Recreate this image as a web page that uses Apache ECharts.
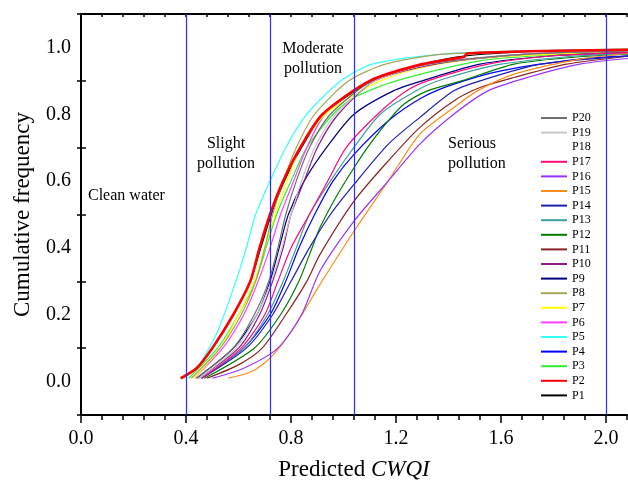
<!DOCTYPE html>
<html>
<head>
<meta charset="utf-8">
<script src="https://cdn.jsdelivr.net/npm/echarts@6/dist/echarts.min.js"></script>
<style>
html, body { margin: 0; padding: 0; background: #fff; }
#chart { width: 628px; height: 481px; }
</style>
</head>
<body>
<div id="chart"></div>
<script>
// cumulative frequency of predicted CWQI per site: [CWQI, frequency]
const P1 = [[0.38,0.01],[0.44,0.04],[0.50,0.10],[0.58,0.20],[0.645,0.30],[0.685,0.40],[0.725,0.50],[0.775,0.60],[0.84,0.70],[0.925,0.80],[1.11,0.90],[1.30,0.95],[1.47,0.975],[1.8,0.99],[2.1,0.993]]
const P2 = [[0.38,0.01],[0.44,0.04],[0.50,0.10],[0.58,0.20],[0.645,0.30],[0.68,0.40],[0.72,0.50],[0.77,0.60],[0.835,0.70],[0.92,0.80],[1.10,0.90],[1.30,0.95],[1.46,0.972],[1.47,0.982],[1.8,0.99],[2.1,0.993]]
const P3 = [[0.41,0.01],[0.52,0.10],[0.60,0.20],[0.665,0.30],[0.705,0.40],[0.745,0.50],[0.80,0.60],[0.86,0.70],[0.96,0.80],[1.04,0.85],[1.20,0.90],[1.52,0.96],[1.8,0.978],[2.1,0.988]]
const P4 = [[0.46,0.01],[0.62,0.10],[0.72,0.20],[0.78,0.30],[0.83,0.40],[0.89,0.50],[0.96,0.60],[1.04,0.68],[1.17,0.78],[1.30,0.85],[1.42,0.89],[1.60,0.93],[1.9,0.965],[2.1,0.975]]
const P5 = [[0.39,0.01],[0.45,0.05],[0.52,0.15],[0.59,0.30],[0.63,0.40],[0.665,0.50],[0.72,0.60],[0.78,0.70],[0.86,0.80],[0.99,0.90],[1.11,0.95],[1.38,0.98],[1.7,0.99],[2.1,0.995]]
const P6 = [[0.43,0.01],[0.54,0.10],[0.62,0.20],[0.675,0.30],[0.72,0.40],[0.76,0.50],[0.81,0.60],[0.86,0.70],[0.93,0.80],[1.10,0.90],[1.32,0.95],[1.7,0.98],[2.1,0.99]]
const P7 = [[0.43,0.01],[0.53,0.10],[0.60,0.20],[0.66,0.30],[0.70,0.40],[0.74,0.50],[0.785,0.60],[0.835,0.70],[0.93,0.80],[1.04,0.857],[1.14,0.90],[1.30,0.94],[1.52,0.967],[1.8,0.98],[2.1,0.99]]
const P8 = [[0.42,0.01],[0.53,0.10],[0.61,0.20],[0.665,0.30],[0.70,0.40],[0.73,0.50],[0.77,0.60],[0.82,0.70],[0.89,0.80],[1.02,0.90],[1.16,0.95],[1.38,0.98],[1.8,0.99],[2.1,0.995]]
const P9 = [[0.44,0.01],[0.58,0.10],[0.67,0.20],[0.72,0.30],[0.755,0.40],[0.79,0.50],[0.85,0.60],[0.935,0.70],[1.04,0.80],[1.19,0.87],[1.30,0.90],[1.52,0.95],[1.8,0.975],[2.1,0.985]]
const P10 = [[0.45,0.01],[0.60,0.10],[0.68,0.20],[0.73,0.30],[0.77,0.40],[0.80,0.50],[0.85,0.60],[0.90,0.70],[0.98,0.80],[1.12,0.90],[1.35,0.95],[1.7,0.98],[2.1,0.99]]
const P11 = [[0.48,0.01],[0.60,0.05],[0.69,0.10],[0.78,0.20],[0.86,0.30],[0.91,0.38],[1.04,0.54],[1.17,0.66],[1.29,0.76],[1.42,0.84],[1.52,0.88],[1.65,0.91],[1.85,0.95],[2.1,0.975]]
const P12 = [[0.47,0.01],[0.66,0.10],[0.76,0.20],[0.83,0.30],[0.88,0.40],[0.91,0.46],[0.97,0.55],[1.04,0.64],[1.10,0.71],[1.17,0.78],[1.23,0.83],[1.32,0.87],[1.45,0.90],[1.65,0.95],[1.9,0.972],[2.1,0.98]]
const P13 = [[0.46,0.01],[0.62,0.10],[0.71,0.20],[0.77,0.30],[0.82,0.40],[0.87,0.50],[0.95,0.60],[1.03,0.69],[1.14,0.80],[1.30,0.88],[1.40,0.91],[1.60,0.95],[1.9,0.975],[2.1,0.982]]
const P14 = [[0.46,0.01],[0.63,0.10],[0.73,0.20],[0.80,0.30],[0.87,0.40],[0.95,0.50],[1.04,0.59],[1.17,0.71],[1.29,0.79],[1.42,0.87],[1.52,0.90],[1.75,0.95],[2.1,0.975]]
const P15 = [[0.56,0.01],[0.65,0.03],[0.72,0.07],[0.81,0.16],[0.91,0.29],[1.04,0.45],[1.17,0.60],[1.29,0.74],[1.42,0.82],[1.51,0.87],[1.65,0.92],[1.90,0.965],[2.1,0.983]]
const P16 = [[0.50,0.01],[0.62,0.04],[0.75,0.10],[0.84,0.20],[0.91,0.33],[1.04,0.48],[1.17,0.60],[1.29,0.71],[1.42,0.80],[1.55,0.87],[1.70,0.91],[1.90,0.95],[2.1,0.968]]
const P17 = [[0.46,0.01],[0.61,0.10],[0.70,0.20],[0.75,0.30],[0.80,0.40],[0.87,0.50],[0.94,0.60],[1.01,0.70],[1.13,0.80],[1.24,0.87],[1.32,0.90],[1.55,0.95],[1.8,0.975],[2.1,0.985]]
const P18 = [[0.45,0.01],[0.60,0.10],[0.68,0.20],[0.74,0.30],[0.78,0.40],[0.82,0.50],[0.86,0.60],[0.92,0.70],[1.00,0.80],[1.15,0.90],[1.35,0.95],[1.7,0.98],[2.1,0.99]]
const P19 = [[0.45,0.01],[0.59,0.10],[0.67,0.20],[0.725,0.30],[0.765,0.40],[0.80,0.50],[0.84,0.60],[0.89,0.70],[0.97,0.80],[1.12,0.90],[1.33,0.95],[1.7,0.98],[2.1,0.99]]
const P20 = [[0.44,0.01],[0.58,0.10],[0.66,0.20],[0.715,0.30],[0.75,0.40],[0.78,0.50],[0.82,0.60],[0.87,0.70],[0.95,0.80],[1.11,0.90],[1.32,0.95],[1.7,0.98],[2.1,0.99]]

const siteNames = ['P20', 'P19', 'P18', 'P17', 'P16', 'P15', 'P14', 'P13', 'P12', 'P11',
  'P10', 'P9', 'P8', 'P7', 'P6', 'P5', 'P4', 'P3', 'P2', 'P1']
const siteData = { P1, P2, P3, P4, P5, P6, P7, P8, P9, P10, P11, P12, P13, P14, P15, P16, P17, P18, P19, P20 }

// grade boundaries of CWQI (clean / slight / moderate / serious)
const gradeBounds = [0.4, 0.72, 1.04, 2.0]
const xTickLabels = [0, 0.4, 0.8, 1.2, 1.6, 2.0]
const yTickLabels = [0, 0.2, 0.4, 0.6, 0.8, 1.0]

const colors = {
  P20: '#6e6e6e', P19: '#c8c8c8', P18: '#ffffff', P17: '#ff0a7f', P16: '#9933ff',
  P15: '#ff8c1a', P14: '#1f1fb4', P13: '#3a9f9f', P12: '#007a00', P11: '#8b2222',
  P10: '#8b1a8b', P9: '#000080', P8: '#a5a55a', P7: '#ffff00', P6: '#ff40ff',
  P5: '#33ffff', P4: '#0000ff', P3: '#33ee33', P2: '#ff0000', P1: '#000000',
}

const FONT = '"Liberation Serif", "Times New Roman", serif'
const chart = echarts.init(document.getElementById('chart'))

// x from 0 to 2.08 over 546 px; the second grid only carries the long ticks (0 .. 2.0)
const mainGrid = { left: 81, top: 14, width: 546, bottom: 66, outerBoundsMode: 'none' }
const tickGrid = { left: 81, top: 14, width: 546 * 2.0 / 2.08, bottom: 66, outerBoundsMode: 'none' }

// P1 drawn first so the thick red P2 sits over it
const lineSeries = siteNames.slice().reverse().map((name) => ({
  name,
  type: 'line',
  data: siteData[name],
  symbol: 'none',
  smooth: 0.25,
  z: name === 'P18' ? 1 : name === 'P2' ? 3 : 2,
  lineStyle: { color: colors[name], width: name === 'P2' ? 2.6 : 1.2 },
  itemStyle: { color: colors[name] },
  emphasis: { disabled: true },
}))

chart.setOption({
  animation: false,
  backgroundColor: '#fff',
  grid: [mainGrid, tickGrid],
  legend: {
    orient: 'vertical',
    left: 536,
    top: 107,
    icon: 'rect',
    itemWidth: 26,
    itemHeight: 2,
    itemGap: 2.6,
    data: siteNames,
    textStyle: { fontFamily: FONT, fontSize: 12, color: '#000', lineHeight: 12 },
  },
  xAxis: [
    {
      gridIndex: 0,
      type: 'value',
      position: 'bottom',
      min: 0,
      max: 2.08,
      interval: 0.08,
      axisLine: { onZero: false, lineStyle: { color: '#000', width: 2 } },
      axisTick: { length: 5, lineStyle: { color: '#000', width: 1.5 } },
      axisLabel: {
        customValues: xTickLabels,
        formatter: (v) => v.toFixed(1),
        fontFamily: FONT,
        fontSize: 20,
        color: '#000',
        margin: 14,
      },
      splitLine: { show: false },
      name: '{n|Predicted }{i|CWQI}',
      nameLocation: 'middle',
      nameGap: 43,
      nameTextStyle: {
        rich: {
          n: { fontFamily: FONT, fontSize: 23, color: '#000' },
          i: { fontFamily: FONT, fontSize: 23, fontStyle: 'italic', color: '#000' },
        },
      },
    },
    {
      gridIndex: 0,
      type: 'value',
      position: 'top',
      min: 0,
      max: 2.08,
      interval: 0.08,
      axisLine: { onZero: false, lineStyle: { color: '#000', width: 2 } },
      axisTick: { inside: true, length: 3, lineStyle: { color: '#000', width: 1.5 } },
      axisLabel: { show: false },
      splitLine: { show: false },
    },
    {
      gridIndex: 1,
      type: 'value',
      position: 'bottom',
      min: 0,
      max: 2.0,
      interval: 0.4,
      axisLine: { show: false, onZero: false },
      axisTick: { length: 8, lineStyle: { color: '#000', width: 1.5 } },
      axisLabel: { show: false },
      splitLine: { show: false },
    },
  ],
  yAxis: [
    {
      gridIndex: 0,
      type: 'value',
      min: -0.1,
      max: 1.1,
      interval: 0.2,
      axisLine: { show: true, onZero: false, lineStyle: { color: '#000', width: 2 } },
      axisTick: { show: true, length: 4, lineStyle: { color: '#000', width: 1.5 } },
      axisLabel: {
        customValues: yTickLabels,
        formatter: (v) => v.toFixed(1),
        fontFamily: FONT,
        fontSize: 20,
        color: '#000',
        margin: 10,
      },
      splitLine: { show: false },
      name: 'Cumulative frequency',
      nameLocation: 'middle',
      nameGap: 47,
      nameTextStyle: { fontFamily: FONT, fontSize: 23, color: '#000' },
    },
    {
      gridIndex: 1,
      type: 'value',
      min: -0.1,
      max: 1.1,
      interval: 0.2,
      axisLine: { show: false, onZero: false },
      axisTick: { show: true, inside: true, length: 5, lineStyle: { color: '#000', width: 1.5 } },
      axisLabel: { show: false },
      splitLine: { show: false },
    },
  ],
  series: [
    ...lineSeries,
    {
      name: 'bounds',
      type: 'line',
      data: [],
      markLine: {
        silent: true,
        symbol: ['none', 'none'],
        label: { show: false },
        lineStyle: { color: '#2b2bff', width: 1.2, type: 'solid' },
        data: gradeBounds.map((v) => ({ xAxis: v })),
      },
    },
  ],
  graphic: [
    { type: 'text', x: 88, y: 196, style: { text: 'Clean water', font: '16px ' + FONT, fill: '#000', verticalAlign: 'middle' } },
    { type: 'text', x: 226, y: 154, style: { text: 'Slight\npollution', font: '16px ' + FONT, fill: '#000', align: 'center', verticalAlign: 'middle', lineHeight: 20 } },
    { type: 'text', x: 313, y: 59, style: { text: 'Moderate\npollution', font: '16px ' + FONT, fill: '#000', align: 'center', verticalAlign: 'middle', lineHeight: 20 } },
    { type: 'text', x: 448, y: 154, style: { text: 'Serious\npollution', font: '16px ' + FONT, fill: '#000', verticalAlign: 'middle', lineHeight: 20 } },
  ],
})
</script>
</body>
</html>
